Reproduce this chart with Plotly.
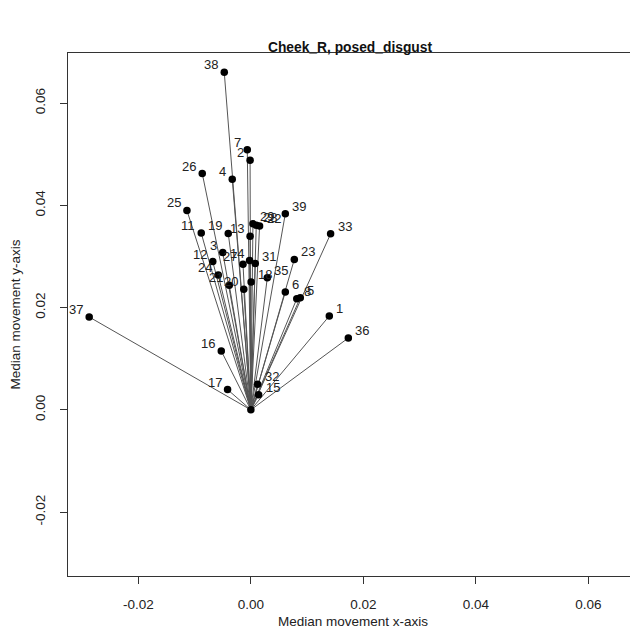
import plotly.graph_objects as go

ids = [1, 2, 3, 4, 5, 6, 7, 8, 11, 12, 13, 14, 15, 16, 17, 18, 19, 20, 21, 22,
       23, 24, 25, 26, 27, 28, 29, 31, 32, 33, 35, 36, 37, 38, 39]
x_vals = [0.01394, -0.00014, -0.00500, -0.00331, 0.00878, 0.00612, -0.00064, 0.00816,
          -0.00882, -0.00677, -0.00014, -0.00023, 0.00137, -0.00526, -0.00414, 0.00004,
          -0.00402, -0.00126, -0.00384, 0.00155, 0.00772, -0.00580, -0.01136, -0.00864,
          -0.00140, 0.00096, 0.00037, 0.00078, 0.00119, 0.01417, 0.00292, 0.01732,
          -0.02873, -0.00473, 0.00612]
y_vals = [0.01836, 0.04883, 0.03076, 0.04512, 0.02193, 0.02305, 0.05088, 0.02174,
          0.03457, 0.02900, 0.03398, 0.02920, 0.00293, 0.01152, 0.00396, 0.02500,
          0.03451, 0.02357, 0.02436, 0.03594, 0.02943, 0.02637, 0.03900, 0.04623,
          0.02846, 0.03613, 0.03639, 0.02861, 0.00502, 0.03443, 0.02584, 0.01406,
          0.01816, 0.06602, 0.03834]
labels = [str(i) for i in ids]

x_ticks = [-0.02, 0.00, 0.02, 0.04, 0.06]
y_ticks = [-0.02, 0.00, 0.02, 0.04, 0.06]
x_ticktext = ["-0.02", "0.00", "0.02", "0.04", "0.06"]
y_ticktext = ["-0.02", "0.00", "0.02", "0.04", "0.06"]

title = "Cheek_R, posed_disgust"
x_title = "Median movement x-axis"
y_title = "Median movement y-axis"

FONT = "Liberation Sans, Arial, Helvetica, sans-serif"

# segments from origin
seg_x, seg_y = [], []
for xv, yv in zip(x_vals, y_vals):
    seg_x += [0, xv, None]
    seg_y += [0, yv, None]

fig = go.Figure()
fig.add_trace(go.Scatter(x=seg_x, y=seg_y, mode="lines",
                         line=dict(color="#555555", width=1),
                         hoverinfo="skip", showlegend=False))
fig.add_trace(go.Scatter(x=[0], y=[0], mode="markers",
                         marker=dict(color="black", size=7.5),
                         showlegend=False))
fig.add_trace(go.Scatter(x=x_vals, y=y_vals, mode="markers",
                         text=labels,
                         marker=dict(color="black", size=7.5),
                         showlegend=False))

annotations = []
for xv, yv, lab in zip(x_vals, y_vals, labels):
    left = xv < 0
    annotations.append(dict(
        x=xv, y=yv, xref="x", yref="y", text=lab, showarrow=False,
        xanchor="right" if left else "left", yanchor="middle",
        xshift=-4 if left else 5, yshift=7.5,
        font=dict(family=FONT, size=13, color="#222222")))

fig.update_layout(
    width=630, height=622,
    margin=dict(l=60, r=0, t=45, b=54),
    paper_bgcolor="white", plot_bgcolor="white",
    font=dict(family=FONT, size=13.5, color="#222222"),
    annotations=annotations,
    title=dict(text="<b>" + title + "</b>", x=342 / 630, xref="container",
               xanchor="center", yref="container", y=1 - 39 / 622, yanchor="middle",
               font=dict(family=FONT, size=13.8, color="#111111")),
)
fig.update_xaxes(range=[-0.0325, 0.0688], tickvals=x_ticks, ticktext=x_ticktext,
                 showgrid=False, zeroline=False, showline=True, linecolor="#333333",
                 linewidth=1, mirror=True, ticks="outside", ticklen=7,
                 tickcolor="#333333", ticklabelstandoff=9,
                 title=dict(text=x_title, standoff=5,
                            font=dict(family=FONT, size=13.5)))
fig.update_yaxes(range=[-0.0325, 0.0698], tickvals=y_ticks, ticktext=y_ticktext,
                 tickangle=-90,
                 showgrid=False, zeroline=False, showline=True, linecolor="#333333",
                 linewidth=1, mirror=False, ticks="outside", ticklen=7,
                 tickcolor="#333333", ticklabelstandoff=10,
                 title=dict(text=y_title, standoff=14,
                            font=dict(family=FONT, size=13.5)))

fig.write_html("out.html")
